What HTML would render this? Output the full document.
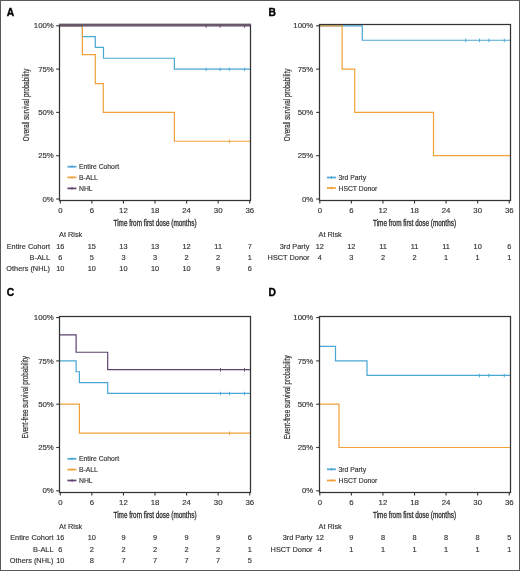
<!DOCTYPE html>
<html><head><meta charset="utf-8"><style>
html,body{margin:0;padding:0;background:#fff;}
svg{display:block;filter:blur(0.3px);}
text{font-family:"Liberation Sans",sans-serif;fill:#333333;stroke:#333;stroke-width:0.15px;}
</style></head><body>
<svg width="520" height="571" viewBox="0 0 520 571">
<rect x="0" y="0" width="520" height="571" fill="#fff"/>
<path d="M59.5,25.8 H82.4 V36.62 H95.3 V47.45 H103.5 V58.27 H174.4 V69.1 H250.5" fill="none" stroke="#4aa6d2" stroke-width="1.2"/>
<path d="M59.5,25.8 H82.4 V54.67 H95.3 V83.53 H103.3 V112.4 H174.4 V141.27 H250.5" fill="none" stroke="#f0a13a" stroke-width="1.2"/>
<path d="M59.5,25.8 H250.5" fill="none" stroke="#5e4470" stroke-width="1.2"/>
<rect x="59.5" y="24.5" width="191" height="176" fill="none" stroke="#333333" stroke-width="1.25"/>
<line x1="59" y1="24.8" x2="251" y2="24.8" stroke="#665868" stroke-width="2.1"/>
<line x1="206.2" y1="24.2" x2="206.2" y2="27.8" stroke="#5e4470" stroke-width="0.9"/>
<line x1="220.2" y1="24.2" x2="220.2" y2="27.8" stroke="#5e4470" stroke-width="0.9"/>
<line x1="244.6" y1="24.2" x2="244.6" y2="27.8" stroke="#5e4470" stroke-width="0.9"/>
<line x1="206.2" y1="67.5" x2="206.2" y2="71.1" stroke="#4aa6d2" stroke-width="0.9"/>
<line x1="220.2" y1="67.5" x2="220.2" y2="71.1" stroke="#4aa6d2" stroke-width="0.9"/>
<line x1="229.3" y1="67.5" x2="229.3" y2="71.1" stroke="#4aa6d2" stroke-width="0.9"/>
<line x1="244.6" y1="67.5" x2="244.6" y2="71.1" stroke="#4aa6d2" stroke-width="0.9"/>
<line x1="229.4" y1="139.67" x2="229.4" y2="143.27" stroke="#f0a13a" stroke-width="0.9"/>
<line x1="56.2" y1="25.8" x2="59.5" y2="25.8" stroke="#333333" stroke-width="1.1"/>
<text x="53.8" y="28.4" text-anchor="end" font-size="7.8">100%</text>
<line x1="56.2" y1="69.1" x2="59.5" y2="69.1" stroke="#333333" stroke-width="1.1"/>
<text x="53.8" y="71.7" text-anchor="end" font-size="7.8">75%</text>
<line x1="56.2" y1="112.4" x2="59.5" y2="112.4" stroke="#333333" stroke-width="1.1"/>
<text x="53.8" y="115" text-anchor="end" font-size="7.8">50%</text>
<line x1="56.2" y1="155.7" x2="59.5" y2="155.7" stroke="#333333" stroke-width="1.1"/>
<text x="53.8" y="158.3" text-anchor="end" font-size="7.8">25%</text>
<line x1="56.2" y1="199" x2="59.5" y2="199" stroke="#333333" stroke-width="1.1"/>
<text x="53.8" y="201.6" text-anchor="end" font-size="7.8">0%</text>
<line x1="60.3" y1="200.5" x2="60.3" y2="203.5" stroke="#333333" stroke-width="1.1"/>
<text x="60.3" y="213.3" text-anchor="middle" font-size="7.8">0</text>
<line x1="91.87" y1="200.5" x2="91.87" y2="203.5" stroke="#333333" stroke-width="1.1"/>
<text x="91.87" y="213.3" text-anchor="middle" font-size="7.8">6</text>
<line x1="123.44" y1="200.5" x2="123.44" y2="203.5" stroke="#333333" stroke-width="1.1"/>
<text x="123.44" y="213.3" text-anchor="middle" font-size="7.8">12</text>
<line x1="155.02" y1="200.5" x2="155.02" y2="203.5" stroke="#333333" stroke-width="1.1"/>
<text x="155.02" y="213.3" text-anchor="middle" font-size="7.8">18</text>
<line x1="186.59" y1="200.5" x2="186.59" y2="203.5" stroke="#333333" stroke-width="1.1"/>
<text x="186.59" y="213.3" text-anchor="middle" font-size="7.8">24</text>
<line x1="218.16" y1="200.5" x2="218.16" y2="203.5" stroke="#333333" stroke-width="1.1"/>
<text x="218.16" y="213.3" text-anchor="middle" font-size="7.8">30</text>
<line x1="249.73" y1="200.5" x2="249.73" y2="203.5" stroke="#333333" stroke-width="1.1"/>
<text x="249.73" y="213.3" text-anchor="middle" font-size="7.8">36</text>
<text x="155" y="226" style="stroke-width:0.35px" text-anchor="middle" font-size="8.8" textLength="83" lengthAdjust="spacingAndGlyphs">Time from first dose (months)</text>
<text transform="translate(28.9,105) rotate(-90)" style="stroke-width:0.2px" text-anchor="middle" font-size="8.5" textLength="72.5" lengthAdjust="spacingAndGlyphs">Overall survival probability</text>
<line x1="67.4" y1="166.7" x2="76.4" y2="166.7" stroke="#4aa6d2" stroke-width="1.7"/>
<line x1="72" y1="165.2" x2="72" y2="168.2" stroke="#4aa6d2" stroke-width="0.8"/>
<text x="79" y="169.2" font-size="6.8">Entire Cohort</text>
<line x1="67.4" y1="177.4" x2="76.4" y2="177.4" stroke="#f0a13a" stroke-width="1.7"/>
<line x1="72" y1="175.9" x2="72" y2="178.9" stroke="#f0a13a" stroke-width="0.8"/>
<text x="79" y="179.9" font-size="6.8">B-ALL</text>
<line x1="67.4" y1="188.4" x2="76.4" y2="188.4" stroke="#5e4470" stroke-width="1.7"/>
<line x1="72" y1="186.9" x2="72" y2="189.9" stroke="#5e4470" stroke-width="0.8"/>
<text x="79" y="190.9" font-size="6.8">NHL</text>
<text x="59" y="237.2" font-size="7.35">At Risk</text>
<text x="50" y="248.6" text-anchor="end" font-size="7.35">Entire Cohort</text>
<text x="60.3" y="248.6" text-anchor="middle" font-size="7.35">16</text>
<text x="91.87" y="248.6" text-anchor="middle" font-size="7.35">15</text>
<text x="123.44" y="248.6" text-anchor="middle" font-size="7.35">13</text>
<text x="155.02" y="248.6" text-anchor="middle" font-size="7.35">13</text>
<text x="186.59" y="248.6" text-anchor="middle" font-size="7.35">12</text>
<text x="218.16" y="248.6" text-anchor="middle" font-size="7.35">11</text>
<text x="249.73" y="248.6" text-anchor="middle" font-size="7.35">7</text>
<text x="50" y="259.9" text-anchor="end" font-size="7.35">B-ALL</text>
<text x="60.3" y="259.9" text-anchor="middle" font-size="7.35">6</text>
<text x="91.87" y="259.9" text-anchor="middle" font-size="7.35">5</text>
<text x="123.44" y="259.9" text-anchor="middle" font-size="7.35">3</text>
<text x="155.02" y="259.9" text-anchor="middle" font-size="7.35">3</text>
<text x="186.59" y="259.9" text-anchor="middle" font-size="7.35">2</text>
<text x="218.16" y="259.9" text-anchor="middle" font-size="7.35">2</text>
<text x="249.73" y="259.9" text-anchor="middle" font-size="7.35">1</text>
<text x="50" y="271" text-anchor="end" font-size="7.35">Others (NHL)</text>
<text x="60.3" y="271" text-anchor="middle" font-size="7.35">10</text>
<text x="91.87" y="271" text-anchor="middle" font-size="7.35">10</text>
<text x="123.44" y="271" text-anchor="middle" font-size="7.35">10</text>
<text x="155.02" y="271" text-anchor="middle" font-size="7.35">10</text>
<text x="186.59" y="271" text-anchor="middle" font-size="7.35">10</text>
<text x="218.16" y="271" text-anchor="middle" font-size="7.35">9</text>
<text x="249.73" y="271" text-anchor="middle" font-size="7.35">6</text>
<path d="M319.5,25.8 H362.3 V40.23 H510.5" fill="none" stroke="#4aa6d2" stroke-width="1.2"/>
<path d="M319.5,25.8 H342.1 V69.1 H354.7 V112.4 H433.5 V155.7 H510.5" fill="none" stroke="#f0a13a" stroke-width="1.2"/>
<rect x="319.5" y="24.5" width="191" height="176" fill="none" stroke="#333333" stroke-width="1.25"/>
<line x1="465.7" y1="38.63" x2="465.7" y2="42.23" stroke="#4aa6d2" stroke-width="0.9"/>
<line x1="479.5" y1="38.63" x2="479.5" y2="42.23" stroke="#4aa6d2" stroke-width="0.9"/>
<line x1="488.8" y1="38.63" x2="488.8" y2="42.23" stroke="#4aa6d2" stroke-width="0.9"/>
<line x1="504.3" y1="38.63" x2="504.3" y2="42.23" stroke="#4aa6d2" stroke-width="0.9"/>
<line x1="316.2" y1="25.8" x2="319.5" y2="25.8" stroke="#333333" stroke-width="1.1"/>
<text x="313.3" y="28.4" text-anchor="end" font-size="7.8">100%</text>
<line x1="316.2" y1="69.1" x2="319.5" y2="69.1" stroke="#333333" stroke-width="1.1"/>
<text x="313.3" y="71.7" text-anchor="end" font-size="7.8">75%</text>
<line x1="316.2" y1="112.4" x2="319.5" y2="112.4" stroke="#333333" stroke-width="1.1"/>
<text x="313.3" y="115" text-anchor="end" font-size="7.8">50%</text>
<line x1="316.2" y1="155.7" x2="319.5" y2="155.7" stroke="#333333" stroke-width="1.1"/>
<text x="313.3" y="158.3" text-anchor="end" font-size="7.8">25%</text>
<line x1="316.2" y1="199" x2="319.5" y2="199" stroke="#333333" stroke-width="1.1"/>
<text x="313.3" y="201.6" text-anchor="end" font-size="7.8">0%</text>
<line x1="319.8" y1="200.5" x2="319.8" y2="203.5" stroke="#333333" stroke-width="1.1"/>
<text x="319.8" y="213.3" text-anchor="middle" font-size="7.8">0</text>
<line x1="351.37" y1="200.5" x2="351.37" y2="203.5" stroke="#333333" stroke-width="1.1"/>
<text x="351.37" y="213.3" text-anchor="middle" font-size="7.8">6</text>
<line x1="382.94" y1="200.5" x2="382.94" y2="203.5" stroke="#333333" stroke-width="1.1"/>
<text x="382.94" y="213.3" text-anchor="middle" font-size="7.8">12</text>
<line x1="414.52" y1="200.5" x2="414.52" y2="203.5" stroke="#333333" stroke-width="1.1"/>
<text x="414.52" y="213.3" text-anchor="middle" font-size="7.8">18</text>
<line x1="446.09" y1="200.5" x2="446.09" y2="203.5" stroke="#333333" stroke-width="1.1"/>
<text x="446.09" y="213.3" text-anchor="middle" font-size="7.8">24</text>
<line x1="477.66" y1="200.5" x2="477.66" y2="203.5" stroke="#333333" stroke-width="1.1"/>
<text x="477.66" y="213.3" text-anchor="middle" font-size="7.8">30</text>
<line x1="509.23" y1="200.5" x2="509.23" y2="203.5" stroke="#333333" stroke-width="1.1"/>
<text x="509.23" y="213.3" text-anchor="middle" font-size="7.8">36</text>
<text x="414.5" y="226" style="stroke-width:0.35px" text-anchor="middle" font-size="8.8" textLength="83" lengthAdjust="spacingAndGlyphs">Time from first dose (months)</text>
<text transform="translate(290.4,105) rotate(-90)" style="stroke-width:0.2px" text-anchor="middle" font-size="8.5" textLength="72.5" lengthAdjust="spacingAndGlyphs">Overall survival probability</text>
<line x1="326.9" y1="177.5" x2="335.9" y2="177.5" stroke="#4aa6d2" stroke-width="1.7"/>
<line x1="331.5" y1="176" x2="331.5" y2="179" stroke="#4aa6d2" stroke-width="0.8"/>
<text x="338.5" y="180" font-size="6.8">3rd Party</text>
<line x1="326.9" y1="188" x2="335.9" y2="188" stroke="#f0a13a" stroke-width="1.7"/>
<line x1="331.5" y1="186.5" x2="331.5" y2="189.5" stroke="#f0a13a" stroke-width="0.8"/>
<text x="338.5" y="190.5" font-size="6.8">HSCT Donor</text>
<text x="318.5" y="237.1" font-size="7.35">At Risk</text>
<text x="309.5" y="248.9" text-anchor="end" font-size="7.35">3rd Party</text>
<text x="319.8" y="248.9" text-anchor="middle" font-size="7.35">12</text>
<text x="351.37" y="248.9" text-anchor="middle" font-size="7.35">12</text>
<text x="382.94" y="248.9" text-anchor="middle" font-size="7.35">11</text>
<text x="414.52" y="248.9" text-anchor="middle" font-size="7.35">11</text>
<text x="446.09" y="248.9" text-anchor="middle" font-size="7.35">11</text>
<text x="477.66" y="248.9" text-anchor="middle" font-size="7.35">10</text>
<text x="509.23" y="248.9" text-anchor="middle" font-size="7.35">6</text>
<text x="309.5" y="259.5" text-anchor="end" font-size="7.35">HSCT Donor</text>
<text x="319.8" y="259.5" text-anchor="middle" font-size="7.35">4</text>
<text x="351.37" y="259.5" text-anchor="middle" font-size="7.35">3</text>
<text x="382.94" y="259.5" text-anchor="middle" font-size="7.35">2</text>
<text x="414.52" y="259.5" text-anchor="middle" font-size="7.35">2</text>
<text x="446.09" y="259.5" text-anchor="middle" font-size="7.35">1</text>
<text x="477.66" y="259.5" text-anchor="middle" font-size="7.35">1</text>
<text x="509.23" y="259.5" text-anchor="middle" font-size="7.35">1</text>
<path d="M59.5,360.9 H76.1 V371.73 H79.4 V382.55 H107.7 V393.38 H250.5" fill="none" stroke="#4aa6d2" stroke-width="1.2"/>
<path d="M59.5,404.2 H79.4 V433.07 H250.5" fill="none" stroke="#f0a13a" stroke-width="1.2"/>
<path d="M59.5,334.92 H76.1 V352.24 H107.7 V369.56 H250.5" fill="none" stroke="#5e4470" stroke-width="1.2"/>
<rect x="59.5" y="316.5" width="191" height="176" fill="none" stroke="#333333" stroke-width="1.25"/>
<line x1="220.5" y1="367.96" x2="220.5" y2="371.56" stroke="#5e4470" stroke-width="0.9"/>
<line x1="244.5" y1="367.96" x2="244.5" y2="371.56" stroke="#5e4470" stroke-width="0.9"/>
<line x1="220.5" y1="391.77" x2="220.5" y2="395.38" stroke="#4aa6d2" stroke-width="0.9"/>
<line x1="229.5" y1="391.77" x2="229.5" y2="395.38" stroke="#4aa6d2" stroke-width="0.9"/>
<line x1="244.5" y1="391.77" x2="244.5" y2="395.38" stroke="#4aa6d2" stroke-width="0.9"/>
<line x1="229.5" y1="431.47" x2="229.5" y2="435.07" stroke="#f0a13a" stroke-width="0.9"/>
<line x1="56.2" y1="317.6" x2="59.5" y2="317.6" stroke="#333333" stroke-width="1.1"/>
<text x="53.8" y="320.2" text-anchor="end" font-size="7.8">100%</text>
<line x1="56.2" y1="360.9" x2="59.5" y2="360.9" stroke="#333333" stroke-width="1.1"/>
<text x="53.8" y="363.5" text-anchor="end" font-size="7.8">75%</text>
<line x1="56.2" y1="404.2" x2="59.5" y2="404.2" stroke="#333333" stroke-width="1.1"/>
<text x="53.8" y="406.8" text-anchor="end" font-size="7.8">50%</text>
<line x1="56.2" y1="447.5" x2="59.5" y2="447.5" stroke="#333333" stroke-width="1.1"/>
<text x="53.8" y="450.1" text-anchor="end" font-size="7.8">25%</text>
<line x1="56.2" y1="490.8" x2="59.5" y2="490.8" stroke="#333333" stroke-width="1.1"/>
<text x="53.8" y="493.4" text-anchor="end" font-size="7.8">0%</text>
<line x1="60.3" y1="492.5" x2="60.3" y2="495.5" stroke="#333333" stroke-width="1.1"/>
<text x="60.3" y="505" text-anchor="middle" font-size="7.8">0</text>
<line x1="91.87" y1="492.5" x2="91.87" y2="495.5" stroke="#333333" stroke-width="1.1"/>
<text x="91.87" y="505" text-anchor="middle" font-size="7.8">6</text>
<line x1="123.44" y1="492.5" x2="123.44" y2="495.5" stroke="#333333" stroke-width="1.1"/>
<text x="123.44" y="505" text-anchor="middle" font-size="7.8">12</text>
<line x1="155.02" y1="492.5" x2="155.02" y2="495.5" stroke="#333333" stroke-width="1.1"/>
<text x="155.02" y="505" text-anchor="middle" font-size="7.8">18</text>
<line x1="186.59" y1="492.5" x2="186.59" y2="495.5" stroke="#333333" stroke-width="1.1"/>
<text x="186.59" y="505" text-anchor="middle" font-size="7.8">24</text>
<line x1="218.16" y1="492.5" x2="218.16" y2="495.5" stroke="#333333" stroke-width="1.1"/>
<text x="218.16" y="505" text-anchor="middle" font-size="7.8">30</text>
<line x1="249.73" y1="492.5" x2="249.73" y2="495.5" stroke="#333333" stroke-width="1.1"/>
<text x="249.73" y="505" text-anchor="middle" font-size="7.8">36</text>
<text x="155" y="517.7" style="stroke-width:0.35px" text-anchor="middle" font-size="8.8" textLength="83" lengthAdjust="spacingAndGlyphs">Time from first dose (months)</text>
<text transform="translate(27.6,397.3) rotate(-90)" style="stroke-width:0.2px" text-anchor="middle" font-size="8.5" textLength="82.5" lengthAdjust="spacingAndGlyphs">Event-free survival probability</text>
<line x1="67.4" y1="458.8" x2="76.4" y2="458.8" stroke="#4aa6d2" stroke-width="1.7"/>
<line x1="72" y1="457.3" x2="72" y2="460.3" stroke="#4aa6d2" stroke-width="0.8"/>
<text x="79" y="461.3" font-size="6.8">Entire Cohort</text>
<line x1="67.4" y1="469.6" x2="76.4" y2="469.6" stroke="#f0a13a" stroke-width="1.7"/>
<line x1="72" y1="468.1" x2="72" y2="471.1" stroke="#f0a13a" stroke-width="0.8"/>
<text x="79" y="472.1" font-size="6.8">B-ALL</text>
<line x1="67.4" y1="480.5" x2="76.4" y2="480.5" stroke="#5e4470" stroke-width="1.7"/>
<line x1="72" y1="479" x2="72" y2="482" stroke="#5e4470" stroke-width="0.8"/>
<text x="79" y="483" font-size="6.8">NHL</text>
<text x="59" y="529" font-size="7.35">At Risk</text>
<text x="53.5" y="540.2" text-anchor="end" font-size="7.35">Entire Cohort</text>
<text x="60.3" y="540.2" text-anchor="middle" font-size="7.35">16</text>
<text x="91.87" y="540.2" text-anchor="middle" font-size="7.35">10</text>
<text x="123.44" y="540.2" text-anchor="middle" font-size="7.35">9</text>
<text x="155.02" y="540.2" text-anchor="middle" font-size="7.35">9</text>
<text x="186.59" y="540.2" text-anchor="middle" font-size="7.35">9</text>
<text x="218.16" y="540.2" text-anchor="middle" font-size="7.35">9</text>
<text x="249.73" y="540.2" text-anchor="middle" font-size="7.35">6</text>
<text x="53.5" y="551.7" text-anchor="end" font-size="7.35">B-ALL</text>
<text x="60.3" y="551.7" text-anchor="middle" font-size="7.35">6</text>
<text x="91.87" y="551.7" text-anchor="middle" font-size="7.35">2</text>
<text x="123.44" y="551.7" text-anchor="middle" font-size="7.35">2</text>
<text x="155.02" y="551.7" text-anchor="middle" font-size="7.35">2</text>
<text x="186.59" y="551.7" text-anchor="middle" font-size="7.35">2</text>
<text x="218.16" y="551.7" text-anchor="middle" font-size="7.35">2</text>
<text x="249.73" y="551.7" text-anchor="middle" font-size="7.35">1</text>
<text x="53.5" y="562.7" text-anchor="end" font-size="7.35">Others (NHL)</text>
<text x="60.3" y="562.7" text-anchor="middle" font-size="7.35">10</text>
<text x="91.87" y="562.7" text-anchor="middle" font-size="7.35">8</text>
<text x="123.44" y="562.7" text-anchor="middle" font-size="7.35">7</text>
<text x="155.02" y="562.7" text-anchor="middle" font-size="7.35">7</text>
<text x="186.59" y="562.7" text-anchor="middle" font-size="7.35">7</text>
<text x="218.16" y="562.7" text-anchor="middle" font-size="7.35">7</text>
<text x="249.73" y="562.7" text-anchor="middle" font-size="7.35">5</text>
<path d="M319.5,346.47 H335.5 V360.9 H367 V375.33 H510.5" fill="none" stroke="#4aa6d2" stroke-width="1.2"/>
<path d="M319.5,404.2 H339 V447.5 H510.5" fill="none" stroke="#f0a13a" stroke-width="1.2"/>
<rect x="319.5" y="316.5" width="191" height="176" fill="none" stroke="#333333" stroke-width="1.25"/>
<line x1="479.5" y1="373.73" x2="479.5" y2="377.33" stroke="#4aa6d2" stroke-width="0.9"/>
<line x1="488.8" y1="373.73" x2="488.8" y2="377.33" stroke="#4aa6d2" stroke-width="0.9"/>
<line x1="504.3" y1="373.73" x2="504.3" y2="377.33" stroke="#4aa6d2" stroke-width="0.9"/>
<line x1="316.2" y1="317.6" x2="319.5" y2="317.6" stroke="#333333" stroke-width="1.1"/>
<text x="313.3" y="320.2" text-anchor="end" font-size="7.8">100%</text>
<line x1="316.2" y1="360.9" x2="319.5" y2="360.9" stroke="#333333" stroke-width="1.1"/>
<text x="313.3" y="363.5" text-anchor="end" font-size="7.8">75%</text>
<line x1="316.2" y1="404.2" x2="319.5" y2="404.2" stroke="#333333" stroke-width="1.1"/>
<text x="313.3" y="406.8" text-anchor="end" font-size="7.8">50%</text>
<line x1="316.2" y1="447.5" x2="319.5" y2="447.5" stroke="#333333" stroke-width="1.1"/>
<text x="313.3" y="450.1" text-anchor="end" font-size="7.8">25%</text>
<line x1="316.2" y1="490.8" x2="319.5" y2="490.8" stroke="#333333" stroke-width="1.1"/>
<text x="313.3" y="493.4" text-anchor="end" font-size="7.8">0%</text>
<line x1="319.8" y1="492.5" x2="319.8" y2="495.5" stroke="#333333" stroke-width="1.1"/>
<text x="319.8" y="505" text-anchor="middle" font-size="7.8">0</text>
<line x1="351.37" y1="492.5" x2="351.37" y2="495.5" stroke="#333333" stroke-width="1.1"/>
<text x="351.37" y="505" text-anchor="middle" font-size="7.8">6</text>
<line x1="382.94" y1="492.5" x2="382.94" y2="495.5" stroke="#333333" stroke-width="1.1"/>
<text x="382.94" y="505" text-anchor="middle" font-size="7.8">12</text>
<line x1="414.52" y1="492.5" x2="414.52" y2="495.5" stroke="#333333" stroke-width="1.1"/>
<text x="414.52" y="505" text-anchor="middle" font-size="7.8">18</text>
<line x1="446.09" y1="492.5" x2="446.09" y2="495.5" stroke="#333333" stroke-width="1.1"/>
<text x="446.09" y="505" text-anchor="middle" font-size="7.8">24</text>
<line x1="477.66" y1="492.5" x2="477.66" y2="495.5" stroke="#333333" stroke-width="1.1"/>
<text x="477.66" y="505" text-anchor="middle" font-size="7.8">30</text>
<line x1="509.23" y1="492.5" x2="509.23" y2="495.5" stroke="#333333" stroke-width="1.1"/>
<text x="509.23" y="505" text-anchor="middle" font-size="7.8">36</text>
<text x="414.5" y="517.7" style="stroke-width:0.35px" text-anchor="middle" font-size="8.8" textLength="83" lengthAdjust="spacingAndGlyphs">Time from first dose (months)</text>
<text transform="translate(290.4,397.3) rotate(-90)" style="stroke-width:0.2px" text-anchor="middle" font-size="8.5" textLength="84" lengthAdjust="spacingAndGlyphs">Event-free survival probability</text>
<line x1="326.9" y1="469.3" x2="335.9" y2="469.3" stroke="#4aa6d2" stroke-width="1.7"/>
<line x1="331.5" y1="467.8" x2="331.5" y2="470.8" stroke="#4aa6d2" stroke-width="0.8"/>
<text x="338.5" y="471.8" font-size="6.8">3rd Party</text>
<line x1="326.9" y1="480.5" x2="335.9" y2="480.5" stroke="#f0a13a" stroke-width="1.7"/>
<line x1="331.5" y1="479" x2="331.5" y2="482" stroke="#f0a13a" stroke-width="0.8"/>
<text x="338.5" y="483" font-size="6.8">HSCT Donor</text>
<text x="318.5" y="529" font-size="7.35">At Risk</text>
<text x="312.5" y="540.2" text-anchor="end" font-size="7.35">3rd Party</text>
<text x="319.8" y="540.2" text-anchor="middle" font-size="7.35">12</text>
<text x="351.37" y="540.2" text-anchor="middle" font-size="7.35">9</text>
<text x="382.94" y="540.2" text-anchor="middle" font-size="7.35">8</text>
<text x="414.52" y="540.2" text-anchor="middle" font-size="7.35">8</text>
<text x="446.09" y="540.2" text-anchor="middle" font-size="7.35">8</text>
<text x="477.66" y="540.2" text-anchor="middle" font-size="7.35">8</text>
<text x="509.23" y="540.2" text-anchor="middle" font-size="7.35">5</text>
<text x="312.5" y="551.7" text-anchor="end" font-size="7.35">HSCT Donor</text>
<text x="319.8" y="551.7" text-anchor="middle" font-size="7.35">4</text>
<text x="351.37" y="551.7" text-anchor="middle" font-size="7.35">1</text>
<text x="382.94" y="551.7" text-anchor="middle" font-size="7.35">1</text>
<text x="414.52" y="551.7" text-anchor="middle" font-size="7.35">1</text>
<text x="446.09" y="551.7" text-anchor="middle" font-size="7.35">1</text>
<text x="477.66" y="551.7" text-anchor="middle" font-size="7.35">1</text>
<text x="509.23" y="551.7" text-anchor="middle" font-size="7.35">1</text>
<text x="6.7" y="15.8" font-size="10.3" font-weight="bold" style="fill:#000;stroke:#000;stroke-width:0.35px">A</text>
<text x="268.4" y="15.6" font-size="10.3" font-weight="bold" style="fill:#000;stroke:#000;stroke-width:0.35px">B</text>
<text x="6.7" y="295.6" font-size="10.3" font-weight="bold" style="fill:#000;stroke:#000;stroke-width:0.35px">C</text>
<text x="268.4" y="295.8" font-size="10.3" font-weight="bold" style="fill:#000;stroke:#000;stroke-width:0.35px">D</text>
<rect x="0.5" y="0.5" width="519" height="570" fill="none" stroke="#5a5a5a" stroke-width="1"/>
</svg></body></html>
